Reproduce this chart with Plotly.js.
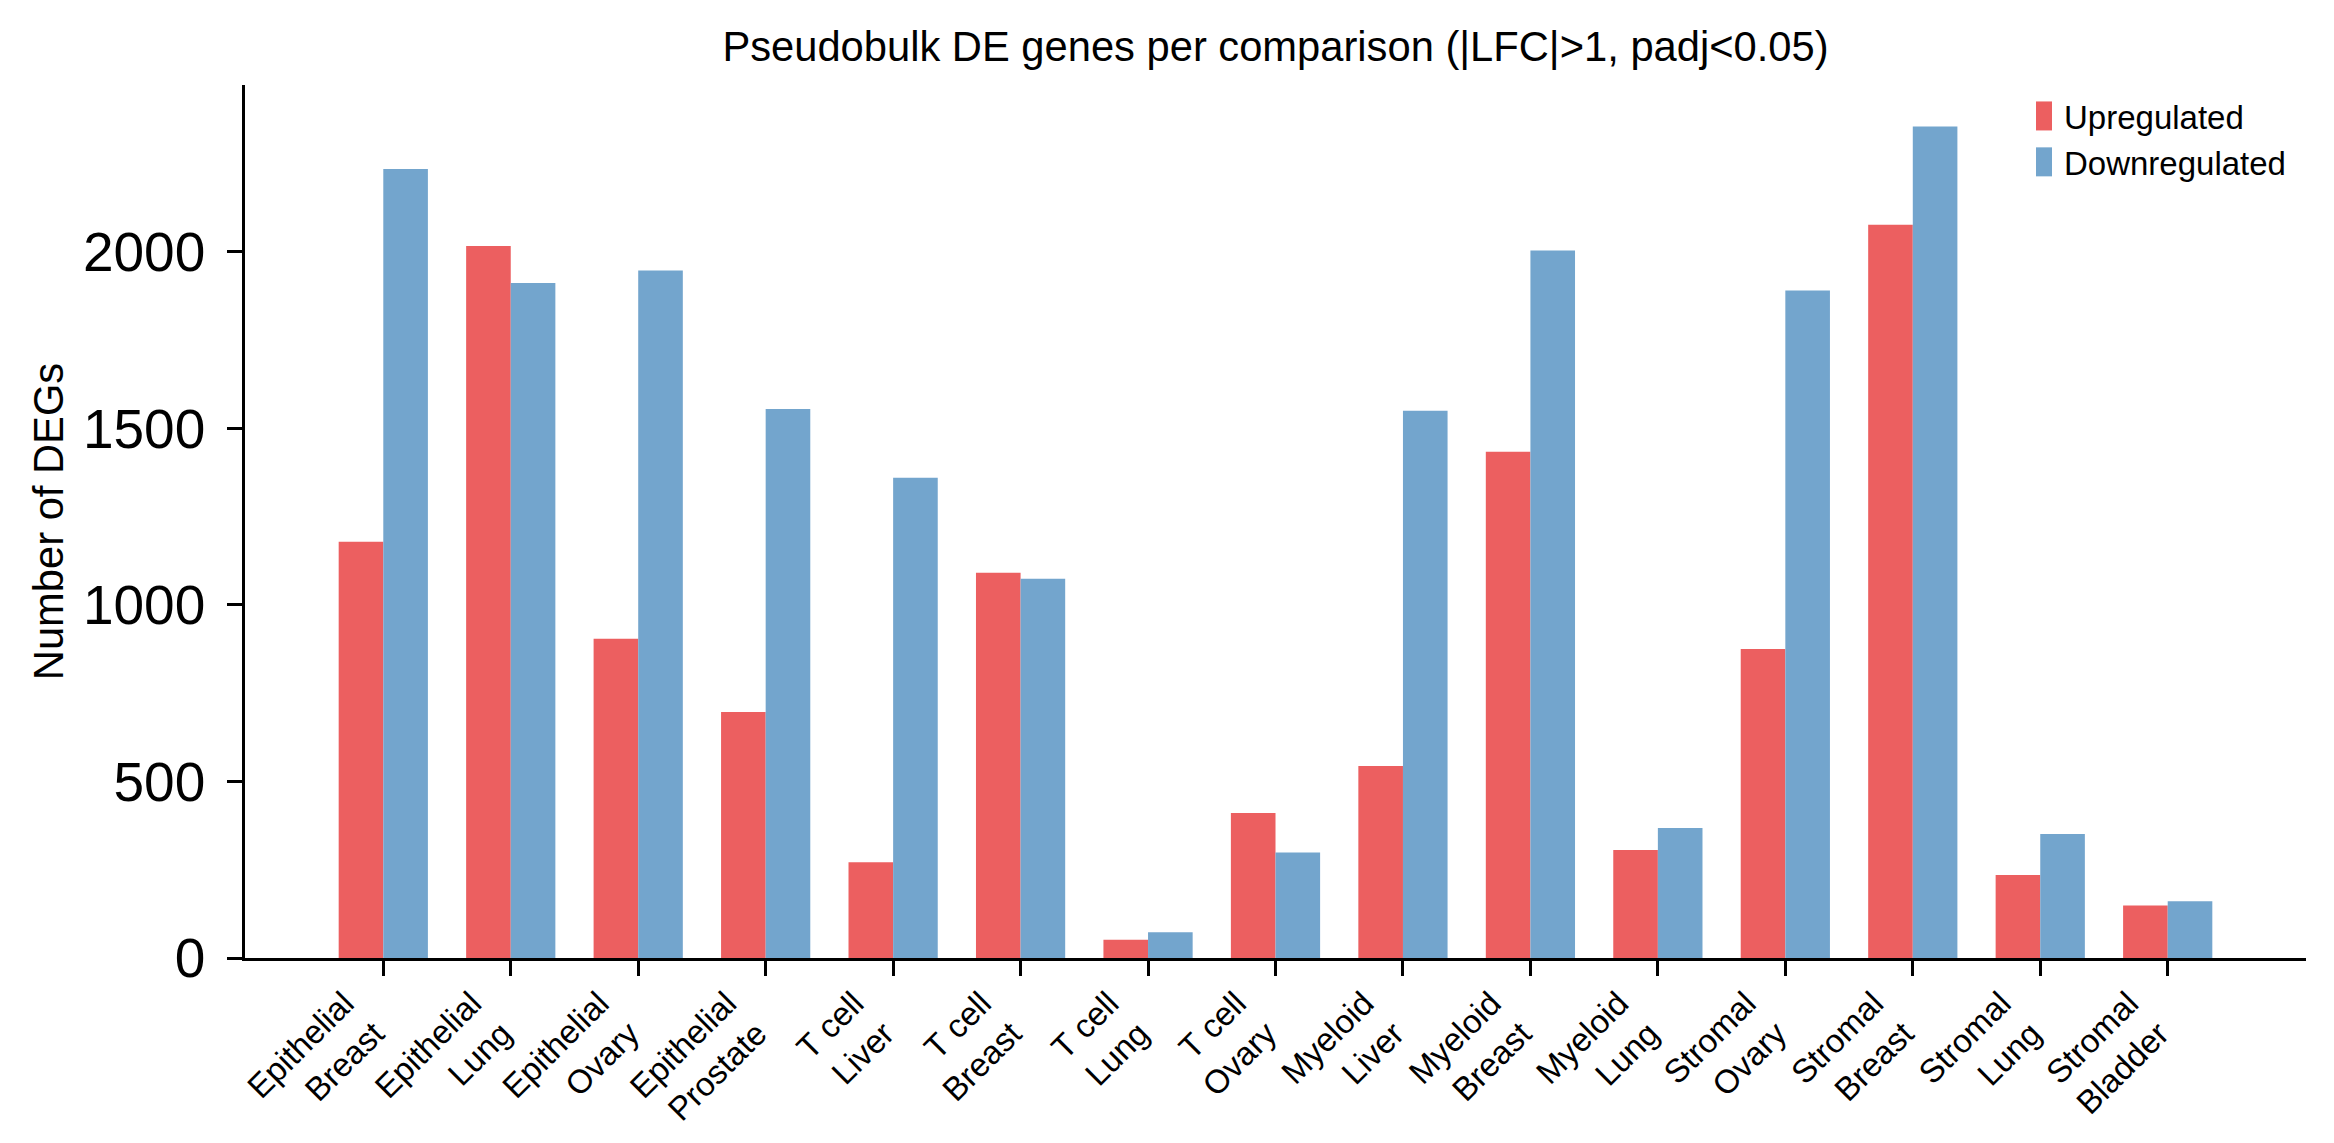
<!DOCTYPE html>
<html>
<head>
<meta charset="utf-8">
<script src="https://cdn.plot.ly/plotly-3.0.1.min.js"></script>
<style>
  html, body { margin: 0; padding: 0; background: #fff; }
  #chart { width: 2334px; height: 1143px; }
</style>
</head>
<body>
<div id="chart"></div>
<script>
// Pseudobulk DE gene counts -----------------------------------------------------
const cellTypes = ['Epithelial', 'Epithelial', 'Epithelial', 'Epithelial', 'T cell', 'T cell', 'T cell', 'T cell',
    'Myeloid', 'Myeloid', 'Myeloid', 'Stromal', 'Stromal', 'Stromal', 'Stromal'];
const tissues = ['Breast', 'Lung', 'Ovary', 'Prostate', 'Liver', 'Breast', 'Lung', 'Ovary',
    'Liver', 'Breast', 'Lung', 'Ovary', 'Breast', 'Lung', 'Bladder'];
const upregulated = [1179, 2017, 904, 697, 271, 1091, 52, 411, 544, 1434, 306, 875, 2077, 235, 149];
const downregulated = [2235, 1912, 1947, 1555, 1360, 1074, 73, 299, 1550, 2004, 368, 1891, 2355, 351, 161];

const labels = cellTypes.map((c, i) => `${c}<br>${tissues[i]}`);
const FONT = 'Liberation Sans, Arial, Helvetica, sans-serif';
const RED = 'rgb(236,95,96)';
const BLUE = 'rgb(115,165,205)';

const ymax = Math.max(...upregulated, ...downregulated) * 1.05;

const traces = [
    { type: 'bar', name: 'Upregulated', x: labels, y: upregulated, marker: { color: RED, line: { width: 0 } }, hoverinfo: 'x+y' },
    { type: 'bar', name: 'Downregulated', x: labels, y: downregulated, marker: { color: BLUE, line: { width: 0 } }, hoverinfo: 'x+y' },
];

const layout = {
    width: 2334, height: 1143,
    paper_bgcolor: '#fff', plot_bgcolor: '#fff',
    font: { family: FONT, color: '#000', size: 33 },
    margin: { l: 245, r: 28, t: 85, b: 185, pad: 0 },
    barmode: 'group', bargap: 0.3, bargroupgap: 0,
    title: {
        text: 'Pseudobulk DE genes per comparison (|LFC|>1, padj<0.05)',
        font: { family: FONT, size: 41.7, color: '#000' },
        x: 0.5, xref: 'paper', xanchor: 'center',
        y: 1 - 46 / 1143, yref: 'container', yanchor: 'middle',
    },
    xaxis: {
        type: 'category', range: [-1.085, 14 + 1.085],
        showline: true, linecolor: '#000', linewidth: 3.4,
        ticks: 'outside', ticklen: 14.6, tickwidth: 3.3, tickcolor: '#000',
        tickangle: -45, ticklabelshift: -39, ticklabelstandoff: -5,
        tickfont: { family: FONT, size: 33, color: '#000' },
        showgrid: false, zeroline: false, automargin: false,
    },
    yaxis: {
        range: [0, ymax], tickvals: [0, 500, 1000, 1500, 2000],
        showline: true, linecolor: '#000', linewidth: 3.3,
        ticks: 'outside', ticklen: 14.6, tickwidth: 3.3, tickcolor: '#000',
        ticklabelstandoff: 11,
        tickfont: { family: FONT, size: 55, color: '#000' },
        title: { text: 'Number of DEGs', font: { family: FONT, size: 41.7, color: '#000' }, standoff: 7 },
        showgrid: false, zeroline: false, automargin: false,
    },
    showlegend: true,
    legend: {
        x: 1 - 15 / 2061, xanchor: 'right', y: 1 - 3 / 873, yanchor: 'top',
        font: { family: FONT, size: 33, color: '#000' },
        bgcolor: 'rgba(0,0,0,0)', borderwidth: 0, tracegroupgap: 4, itemwidth: 30,
        traceorder: 'normal',
    },
};

Plotly.newPlot('chart', traces, layout, { displayModeBar: false, responsive: false }).then(() => {
    // taller legend handles, like the matplotlib patches
    document.querySelectorAll('.legend .legendpoints path').forEach(p => p.setAttribute('d', 'M8,14.5H-8V-14.5H8Z'));
});
</script>
</body>
</html>
